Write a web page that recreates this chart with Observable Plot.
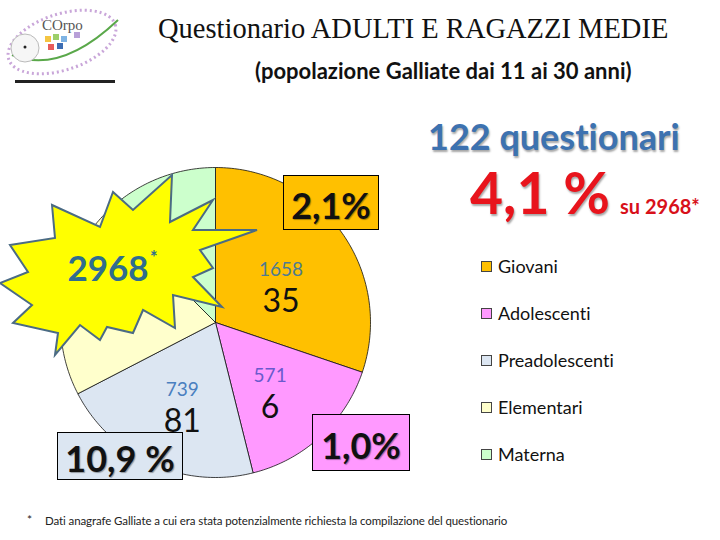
<!DOCTYPE html>
<html>
<head>
<meta charset="utf-8">
<script src="https://cdn.jsdelivr.net/npm/d3@7"></script>
<script src="https://cdn.jsdelivr.net/npm/@observablehq/plot@0.6"></script>
<style>
  html, body { margin: 0; padding: 0; background: #fff; }
  #page { position: relative; width: 720px; height: 540px; overflow: hidden; font-family: Lato, "Open Sans", sans-serif; font-variant-ligatures: none; }
  .abs { position: absolute; white-space: nowrap; }
  #title { left: 158px; top: 13px; font-family: "Liberation Serif", serif; font-size: 28.5px; color: #111; }
  #subtitle { left: 255px; top: 57px; font-size: 22px; font-weight: 700; color: #111; }
  #q122 { left: 428px; top: 114px; font-size: 36px; font-weight: 700; color: #3d72b0; text-shadow: 1px 2px 2px rgba(0,0,0,0.35); }
  #pct41 { left: 470px; top: 158px; font-size: 57px; font-weight: 700; color: #e8141c; text-shadow: 1px 2px 2px rgba(0,0,0,0.35); }
  #su { left: 620px; top: 194px; font-size: 20px; font-weight: 700; color: #d8101a; }
  .box { position: absolute; border: 1px solid #000; font-weight: 700; font-size: 36px; color: #111; text-align: center; text-shadow: 1px 1px 1px rgba(0,0,0,0.35); box-sizing: border-box; line-height: 1; }
  #legend { left: 481px; top: 255px; }
  .li { position: absolute; left: 0; font-size: 18px; color: #111; height: 22px; white-space: nowrap; }
  .sw { position: absolute; left: 0; top: 6px; width: 11px; height: 11px; border: 1px solid #444; box-sizing: border-box; }
  .lt { position: absolute; left: 17px; top: 0; }
  #star-note { left: 27px; top: 512px; font-size: 12px; color: #222; }
  #foot { left: 45px; top: 514px; font-size: 11.5px; color: #222; letter-spacing: -0.1px; }
  #plot { position: absolute; left: 0; top: 140px; }
</style>
</head>
<body>
<div id="page">
  <svg class="abs" style="left:0;top:0" width="130" height="95" viewBox="0 0 130 95">
    <ellipse cx="62" cy="42" rx="56" ry="28" transform="rotate(-18 62 42)" fill="none" stroke="#c9a6d9" stroke-width="3" stroke-dasharray="2 3"/>
    <path d="M12 55 Q60 75 118 20" fill="none" stroke="#5aa84a" stroke-width="2"/>
    <circle cx="25" cy="48" r="14" fill="#f6f6f6" stroke="#bbb" stroke-width="1"/>
    <circle cx="25" cy="47" r="1.5" fill="#222"/>
    <text x="42" y="30" font-family="Liberation Serif" font-size="15" fill="#555">COrpo</text>
    <rect x="45" y="36" width="6" height="6" fill="#f4c542"/><rect x="53" y="34" width="6" height="6" fill="#9ccf6a"/>
    <rect x="61" y="36" width="6" height="6" fill="#7fb3e3"/><rect x="48" y="44" width="6" height="6" fill="#e85c5c"/>
    <rect x="57" y="43" width="6" height="6" fill="#3b6db3"/><rect x="74" y="32" width="6" height="6" fill="#b8a0d8"/>
    <rect x="15" y="80" width="100" height="3" fill="#222"/>
  </svg>
  <div id="title" class="abs">Questionario ADULTI E RAGAZZI MEDIE</div>
  <div id="subtitle" class="abs">(popolazione Galliate dai 11 ai 30 anni)</div>
  <div id="q122" class="abs">122 questionari</div>
  <div id="pct41" class="abs">4,1 %</div>
  <div id="su" class="abs">su 2968*</div>
  <div id="plot"></div>
  <svg class="abs" style="left:0;top:0;pointer-events:none" width="720" height="540">
    <polygon points="172,175 170,222 213,200 193,230 257,230 200,250 213,268 193,277 222,307 173,295 175,328 143,310 133,333 107,327 100,340 80,325 55,355 58,333 13,323 32,305 0,283 28,272 10,245 55,238 52,205 100,227 113,192 133,210"
      fill="#ffff00" stroke="#4b6b84" stroke-width="2" stroke-linejoin="miter"/>
    <text x="108" y="281" text-anchor="middle" font-family="Lato" font-weight="700" font-size="35" fill="#2f6d8e">2968</text>
    <text x="150" y="264" font-family="Lato" font-weight="700" font-size="18" fill="#2f6d8e">*</text>
  </svg>
  <div id="boxes"></div>
  <div id="legend" class="abs"></div>
  <div id="star-note" class="abs">*</div>
  <div id="foot" class="abs">Dati anagrafe Galliate a cui era stata potenzialmente richiesta la compilazione del questionario</div>
</div>
<script>
// ---- data ----
const categorie = ["Giovani", "Adolescenti", "Preadolescenti", "Elementari", "Materna"];
const quota = [30.2, 15.9, 21.3, 20.1, 12.5];          // estimated slice shares (%)
const colori = ["#ffc000", "#ff99ff", "#dce6f2", "#ffffcc", "#ccffcc"];
const popolazione = [1658, 571, 739];                   // Giovani, Adolescenti, Preadolescenti
const questionari = [35, 6, 81];
const coloriPop = ["#4e7b91", "#6a5acd", "#4a7fc0"];
const percentuali = ["2,1%", "1,0%", "10,9 %"];
const boxColori = ["#ffc000", "#ff99ff", "#dce6f2"];

// ---- pie geometry through Plot scales ----
const W = 440, H = 360, R = 155, cx = 215, cy = 182;
const pie = d3.pie().sort(null).value(d => d)(quota);
const pts = pie.flatMap((p, i) => {
  const name = categorie[i];
  const n = Math.max(2, Math.ceil((p.endAngle - p.startAngle) / (Math.PI / 180)));
  const arr = [{name, x: 0, y: 0}];
  for (let k = 0; k <= n; k++) {
    const a = p.startAngle + (p.endAngle - p.startAngle) * k / n;
    arr.push({name, x: Math.sin(a), y: Math.cos(a)});
  }
  arr.push({name, x: 0, y: 0});
  return arr;
});
const lab = popolazione.map((v, i) => {
  const p = pie[i], m = (p.startAngle + p.endAngle) / 2;
  return {name: categorie[i], pop: v, q: questionari[i], x: 0.52 * Math.sin(m), y: 0.52 * Math.cos(m), col: coloriPop[i]};
});

const marks = [
  Plot.line(pts, {x: "x", y: "y", z: "name", fill: "name", stroke: "#111", strokeWidth: 0.8, curve: "linear"})
];
lab.forEach(d => {
  marks.push(Plot.text([d], {x: "x", y: "y", text: d => String(d.pop), fill: d.col, fontSize: 19, fontFamily: "Lato", dy: -6}));
  marks.push(Plot.text([d], {x: "x", y: "y", text: d => String(d.q), fill: "#111", fontSize: 32, fontFamily: "Lato", dy: 26}));
});

const chart = Plot.plot({
  width: W, height: H, margin: 0,
  style: {background: "transparent", overflow: "visible"},
  x: {domain: [-cx / R, (W - cx) / R], axis: null},
  y: {domain: [-(H - cy) / R, cy / R], axis: null},
  color: {domain: categorie, range: colori},
  marks
});
document.getElementById("plot").appendChild(chart);

// ---- percentage boxes ----
const boxPos = [
  {left: 283, top: 175, w: 96, h: 55},
  {left: 312, top: 414, w: 98, h: 57},
  {left: 57, top: 432, w: 126, h: 48}
];
const boxes = document.getElementById("boxes");
percentuali.forEach((t, i) => {
  const b = document.createElement("div");
  b.className = "box";
  const p = boxPos[i];
  Object.assign(b.style, {left: p.left + "px", top: p.top + "px", width: p.w + "px", height: p.h + "px", background: boxColori[i], paddingTop: ((p.h - 36) / 2 + 1) + "px"});
  b.textContent = t;
  boxes.appendChild(b);
});

// ---- legend ----
const leg = document.getElementById("legend");
categorie.forEach((c, i) => {
  const row = document.createElement("div");
  row.className = "li";
  row.style.top = (i * 47) + "px";
  row.innerHTML = `<div class="sw" style="background:${colori[i]}"></div><div class="lt">${c}</div>`;
  leg.appendChild(row);
});
</script>
</body>
</html>
